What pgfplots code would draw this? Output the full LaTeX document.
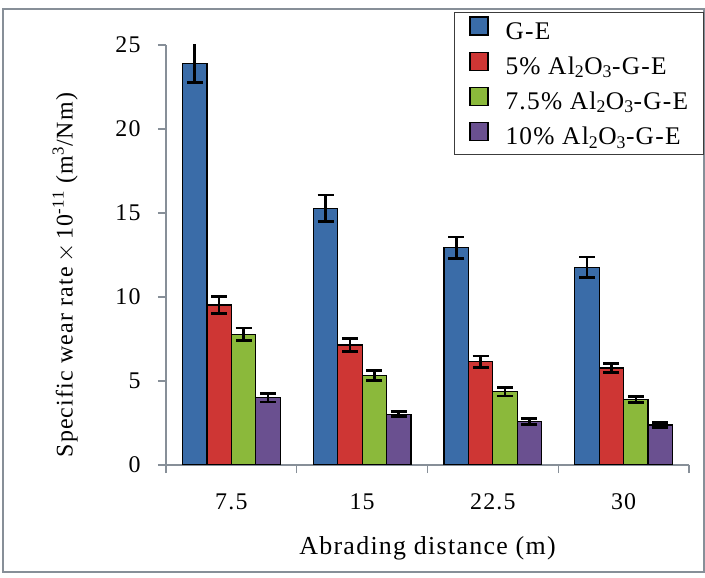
\documentclass[border=0pt]{standalone}
\usepackage{pgfplots}
\pgfplotsset{compat=1.18}
\usepackage{fontspec}
\setmainfont{Liberation Serif}[LetterSpace=5]
\definecolor{cblue}{RGB}{58,108,168}
\definecolor{cred}{RGB}{206,54,52}
\definecolor{cgreen}{RGB}{139,185,59}
\definecolor{cpurple}{RGB}{106,80,144}
\definecolor{axgray}{RGB}{135,143,152}
\definecolor{leggray}{RGB}{60,60,60}
\pgfplotsset{
  mylegend/.style={legend image code/.code={\draw[##1, draw=black, line width=1.2bp] (0bp,-2bp) rectangle (18bp,16bp);}}
}
\begin{document}
\begin{tikzpicture}
\useasboundingbox (0,0) rectangle (705bp,578bp);
\draw[axgray, line width=2bp] (3bp,6bp) rectangle (704bp,569bp);
\begin{axis}[
  at={(166bp,113bp)}, anchor=south west,
  scale only axis, width=523bp, height=420bp,
  xmin=-0.5, xmax=3.5, ymin=0, ymax=25,
  axis x line*=bottom, axis y line*=left,
  axis line style={axgray, line width=1.2bp},
  ytick={0,5,10,15,20,25},
  xtick={-0.5,0.5,1.5,2.5,3.5}, xticklabels={},
  extra x ticks={0,1,2,3}, extra x tick labels={7.5,15,22.5,30},
  extra x tick style={major tick length=0pt, xticklabel style={yshift=-25bp}},
  tick align=outside, major tick length=8bp,
  tick style={axgray, line width=1.2bp},
  /pgf/number format/assume math mode=true,
  ticklabel style={font=\fontsize{24}{28}\selectfont},
  yticklabel style={xshift=-14bp},
  xlabel={Abrading distance (m)},
  xlabel style={font=\fontsize{26}{30}\selectfont, at={(axis description cs:0.5,-0.198)}, anchor=center},
  ylabel={Specific wear rate\,$\times$\,10\textsuperscript{-11} (m\textsuperscript{3}/Nm)},
  ylabel style={font=\fontsize{24}{28}\selectfont, at={(axis description cs:-0.193,0.452)}, anchor=center},
  ybar=0pt, bar width=24.4bp,
  legend style={at={(1.0287,1.0793)}, anchor=north east, draw=leggray, line width=1.5bp, fill=white,
    font=\fontsize{25.5}{30}\selectfont, inner xsep=15bp, inner ysep=4bp, row sep=6.5bp,
    nodes={inner sep=0pt, text height=18bp, text depth=6bp}, column sep=17bp},
  legend cell align=left,
  every axis plot/.append style={draw=black, line width=1.2bp,
    error bars/y dir=both, error bars/y explicit,
    error bars/error bar style={line width=2.6bp, black},
    error bars/error mark options={rotate=90, line width=2.6bp, mark size=8bp, black}},
]
\addplot[fill=cblue, mylegend] coordinates {
  (0,23.9) += (0,1.4) -= (0,1.15)
  (1,15.28) +- (0,0.8)
  (2,12.93) +- (0,0.63)
  (3,11.77) +- (0,0.6)
};
\addplot[fill=cred, mylegend] coordinates {
  (0,9.52) +- (0,0.5)
  (1,7.14) +- (0,0.4)
  (2,6.15) +- (0,0.33)
  (3,5.77) +- (0,0.28)
};
\addplot[fill=cgreen, mylegend] coordinates {
  (0,7.78) +- (0,0.37)
  (1,5.32) +- (0,0.3)
  (2,4.36) +- (0,0.25)
  (3,3.91) +- (0,0.18)
};
\addplot[fill=cpurple, mylegend] coordinates {
  (0,4.0) +- (0,0.25)
  (1,3.02) +- (0,0.15)
  (2,2.58) +- (0,0.18)
  (3,2.38) +- (0,0.15)
};
\legend{G-E, 5\% Al\textsubscript{2}O\textsubscript{3}-G-E, 7.5\% Al\textsubscript{2}O\textsubscript{3}-G-E, 10\% Al\textsubscript{2}O\textsubscript{3}-G-E}
\end{axis}
\end{tikzpicture}
\end{document}
